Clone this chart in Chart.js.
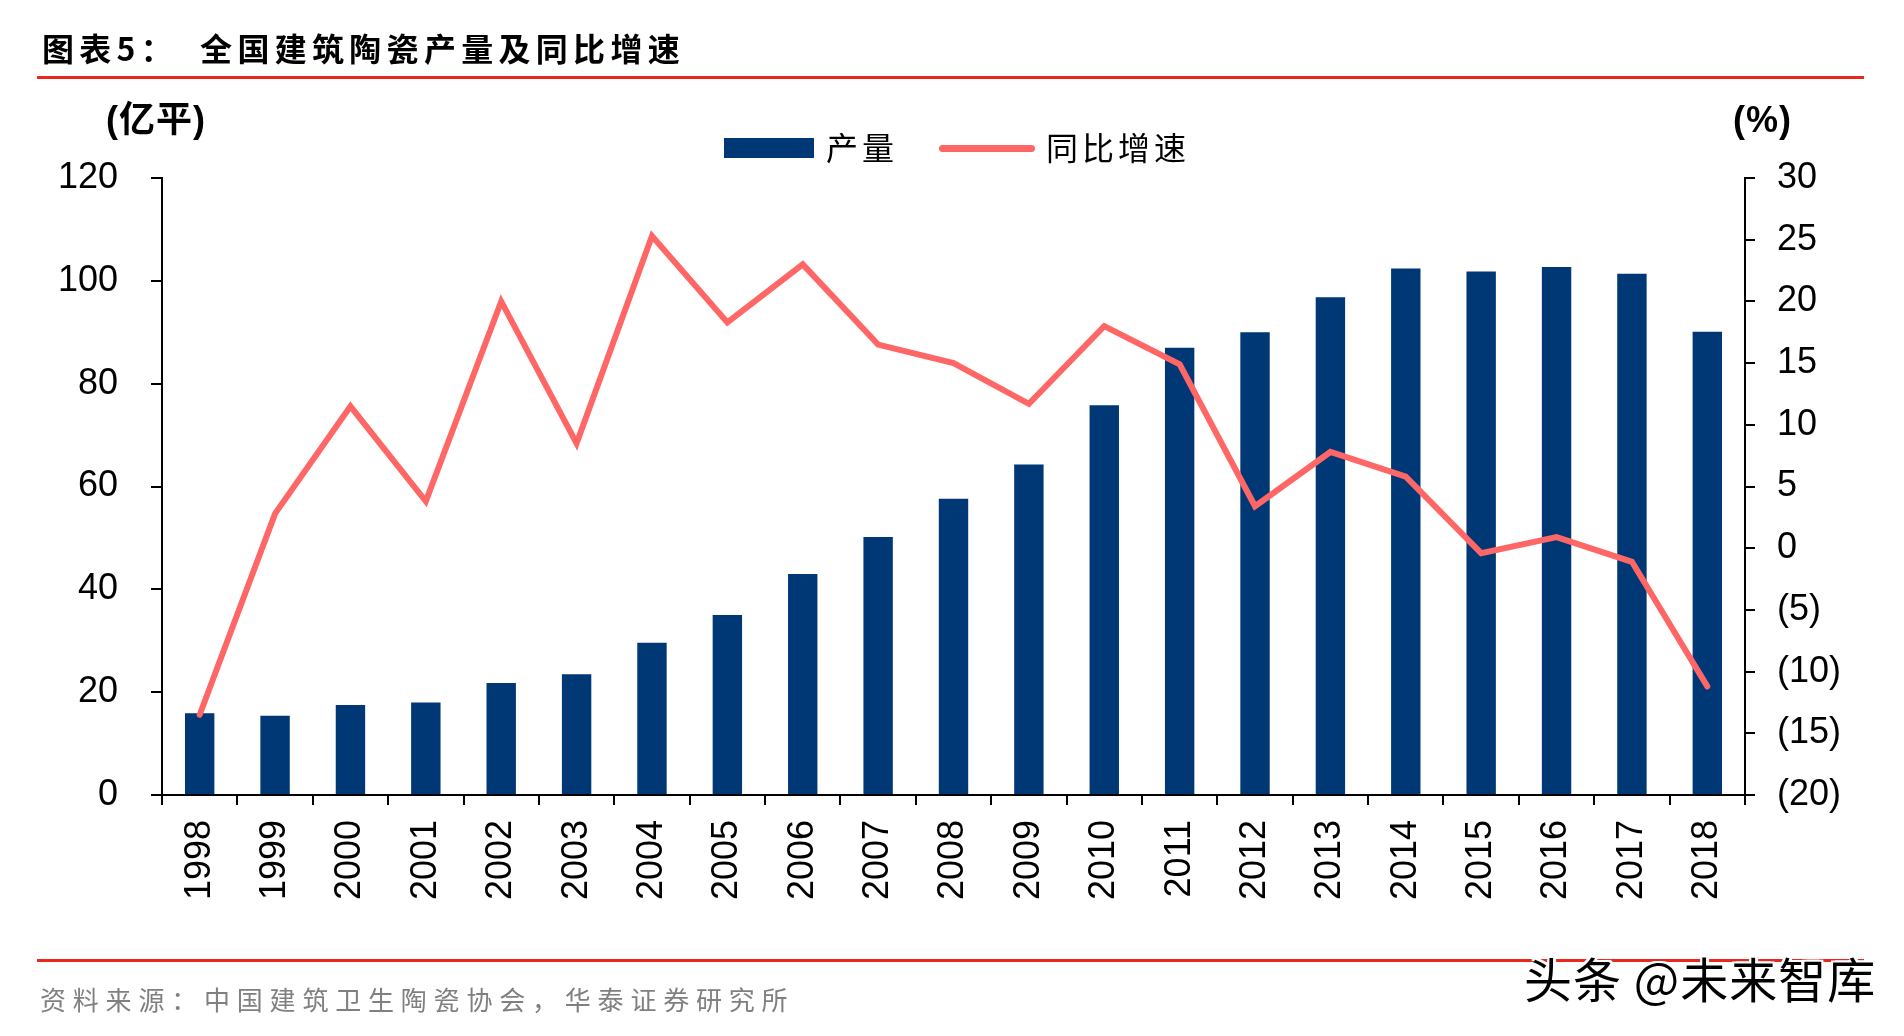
<!DOCTYPE html>
<html>
<head>
<meta charset="utf-8">
<script src="https://cdn.jsdelivr.net/npm/chart.js@4.4.1/dist/chart.umd.min.js"></script>
<style>
  html, body { margin: 0; padding: 0; background: #fff; }
  body { width: 1904px; height: 1036px; position: relative; overflow: hidden;
         font-family: "Noto Sans CJK SC", "Liberation Sans", sans-serif; }
  #c { position: absolute; left: 0; top: 0; }
  .t { position: absolute; white-space: nowrap; z-index: 2; }
  .rule { position: absolute; left: 37px; width: 1827px; height: 3px; background: #e8291c; z-index: 1; }
  #title { left: 42px; top: 25px; font-size: 32px; line-height: 44px; font-weight: 700; color: #000; letter-spacing: 5.3px; }
  #title .gap { display: inline-block; width: 22px; }
  .unit { top: 98px; font-size: 36px; line-height: 44px; font-weight: 700; color: #000; letter-spacing: 1px; font-family: "Liberation Sans", "Noto Sans CJK SC", sans-serif; }
  #uL { left: 106px; }
  #uR { left: 1733px; }
  .lgbox { position: absolute; z-index: 2; }
  #lgBar { left: 724px; top: 138px; width: 90px; height: 20px; background: #003775; }
  #lgLine { left: 939px; top: 145px; width: 96px; height: 7px; border-radius: 4px; background: #ff6666; }
  .lgtxt { top: 124px; font-size: 32px; line-height: 44px; color: #000; letter-spacing: 4px; }
  #lgT1 { left: 826px; }
  #lgT2 { left: 1046px; }
  #src { left: 40px; top: 981px; font-size: 26px; line-height: 36px; color: #808080; letter-spacing: 6.8px; }
  #wm { left: 1524px; top: 946px; font-size: 48px; line-height: 62px; color: #000; letter-spacing: 1px;
        text-shadow: 2px 2px 0 #fff, -2px -2px 0 #fff, 2px -2px 0 #fff, -2px 2px 0 #fff, 0 3px 0 #fff, 3px 0 0 #fff; z-index: 3; }
</style>
</head>
<body>
<div class="t" id="title">图表5：<span class="gap"></span>全国建筑陶瓷产量及同比增速</div>
<div class="rule" style="top:76px"></div>
<div class="t unit" id="uL">(亿平)</div>
<div class="t unit" id="uR">(%)</div>
<div class="lgbox" id="lgBar"></div>
<div class="t lgtxt" id="lgT1">产量</div>
<div class="lgbox" id="lgLine"></div>
<div class="t lgtxt" id="lgT2">同比增速</div>
<div class="rule" style="top:959px"></div>
<div class="t" id="src">资料来源：中国建筑卫生陶瓷协会，华泰证券研究所</div>
<div class="t" id="wm">头条 @未来智库</div>
<canvas id="c" width="1904" height="1036"></canvas>
<script>
// ---- data ----
const years = ['1998','1999','2000','2001','2002','2003','2004','2005','2006','2007','2008',
               '2009','2010','2011','2012','2013','2014','2015','2016','2017','2018'];
const outputValues = [15.9, 15.4, 17.5, 18.0, 21.8, 23.5, 29.6, 35.0, 43.0, 50.2, 57.6,
                      64.3, 75.8, 87.0, 90.0, 96.8, 102.4, 101.8, 102.7, 101.4, 90.1];
const growthValues = [-13.5, 2.8, 11.5, 3.8, 20.0, 8.5, 25.3, 18.3, 23.0, 16.5, 15.0,
                      11.7, 18.0, 14.9, 3.4, 7.8, 5.8, -0.4, 0.9, -1.1, -11.2];
const seriesNames = ['产量', '同比增速'];
const leftTicks = { min: 0, max: 120, step: 20 };
const rightTicks = { min: -20, max: 30, step: 5 };

const tickFont = { family: '"Liberation Sans", Arial, sans-serif', size: 36 };

new Chart(document.getElementById('c'), {
  type: 'bar',
  data: {
    labels: years,
    datasets: [
      {
        type: 'line',
        label: seriesNames[1],
        data: growthValues,
        yAxisID: 'y1',
        borderColor: '#ff6666',
        backgroundColor: '#ff6666',
        borderWidth: 6,
        pointRadius: 0,
        tension: 0,
        borderJoinStyle: 'miter',
        borderCapStyle: 'round',
        order: 0
      },
      {
        type: 'bar',
        label: seriesNames[0],
        data: outputValues,
        yAxisID: 'y',
        backgroundColor: '#003775',
        categoryPercentage: 1,
        barPercentage: 0.39,
        order: 1
      }
    ]
  },
  options: {
    responsive: false,
    animation: false,
    devicePixelRatio: 1,
    layout: { padding: { top: 178, left: 0, right: 0, bottom: 0 } },
    plugins: { legend: { display: false }, tooltip: { enabled: false }, title: { display: false } },
    scales: {
      x: {
        offset: true,
        grid: { display: true, offset: true, drawOnChartArea: false, drawTicks: true, tickLength: 10, color: '#000', lineWidth: 2 },
        border: { display: true, color: '#000', width: 2 },
        ticks: { color: '#000', font: tickFont, minRotation: 90, maxRotation: 90, autoSkip: false, padding: 15 },
        afterFit: s => { s.height = 241; }
      },
      y: {
        position: 'left',
        min: leftTicks.min, max: leftTicks.max,
        grid: { display: true, drawOnChartArea: false, drawTicks: true, tickLength: 11, color: '#000', lineWidth: 2 },
        border: { display: true, color: '#000', width: 2 },
        ticks: { stepSize: leftTicks.step, color: '#000', font: tickFont, padding: 33 },
        afterFit: s => { s.width = 162; }
      },
      y1: {
        position: 'right',
        min: rightTicks.min, max: rightTicks.max,
        grid: { display: true, drawOnChartArea: false, drawTicks: true, tickLength: 10, color: '#000', lineWidth: 2 },
        border: { display: true, color: '#000', width: 2 },
        ticks: {
          stepSize: rightTicks.step, color: '#000', font: tickFont, padding: 22,
          callback: v => (v < 0 ? '(' + (-v) + ')' : String(v))
        },
        afterFit: s => { s.width = 159; }
      }
    }
  }
});
</script>
</body>
</html>
